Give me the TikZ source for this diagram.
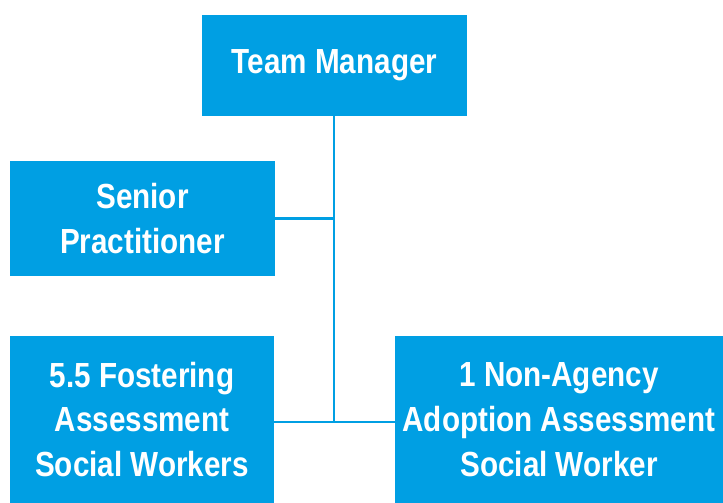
\documentclass[tikz,border=0pt]{standalone}
\usepackage{fontspec}
\setmainfont{Liberation Sans}[FakeStretch=0.85]
\definecolor{boxblue}{HTML}{009FE3}
\begin{document}
\begin{tikzpicture}[x=1bp,y=-1bp,
  orgbox/.style={fill=boxblue,draw=none,text=white,font=\fontsize{35}{45}\selectfont\bfseries,align=center,inner sep=0pt},
  link/.style={draw=boxblue,line width=2.6bp}]
\useasboundingbox (0,0) rectangle (723,503);
\node[orgbox,minimum width=265bp,minimum height=101bp] (tm) at (334.5,65.5) {Team Manager};
\node[orgbox,minimum width=265bp,minimum height=115bp] (sp) at (142.5,218.5) {Senior\\Practitioner};
\node[orgbox,minimum width=264bp,minimum height=167bp] (fa) at (142,419.5) {5.5 Fostering\\Assessment\\Social Workers};
\node[orgbox,minimum width=328bp,minimum height=167bp] (na) at (559,419.5) {1 Non-Agency\\Adoption Assessment\\Social Worker};
\coordinate (j1) at (334,218.5);
\coordinate (j2) at (334,422);
\draw[link] (tm.south -| j1) -- (j2);
\draw[link] (sp.east |- j1) -- (j1);
\draw[link] (fa.east |- j2) -- (na.west |- j2);
\end{tikzpicture}
\end{document}
